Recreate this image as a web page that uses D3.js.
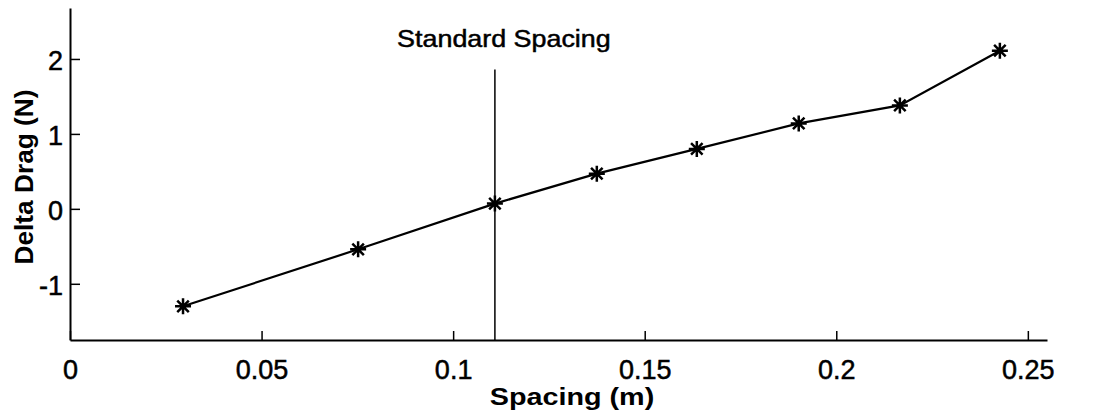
<!DOCTYPE html>
<html>
<head>
<meta charset="utf-8">
<script src="https://cdn.jsdelivr.net/npm/d3@7"></script>
<style>
	body { margin: 0; background: #fff; }
	svg { display: block; font-family: "Liberation Sans", Arial, sans-serif; }
</style>
</head>
<body>
<svg id="chart" width="1096" height="418"></svg>
<script>
// values
const spacing = [0.0295, 0.0752, 0.1109, 0.1375, 0.1636, 0.1902, 0.2166, 0.2427];
const deltaDrag = [-1.3, -0.54, 0.07, 0.47, 0.8, 1.14, 1.38, 2.11];
const xTicks = [0, 0.05, 0.1, 0.15, 0.2, 0.25];
const yTicks = [-1, 0, 1, 2];
const standardSpacing = [0.1109];
const standardTop = 1.86;

const svg = d3.select("#chart");
const margin = { left: 70, right: 49, top: 8, bottom: 78 };
const W = 1096, H = 418;

const x = d3.scaleLinear().domain([0, 0.255]).range([margin.left, W - margin.right]);
const y = d3.scaleLinear().domain([-1.75, 2.68]).range([H - margin.bottom, margin.top]);

const data = spacing.map((s, i) => ({ s, v: deltaDrag[i] }));

// axes, ticks pointing inward like matlab
const gx = svg.append("g")
	.attr("transform", `translate(0,${y.range()[0]})`)
	.call(d3.axisBottom(x).tickValues(xTicks).tickSizeInner(-9).tickSizeOuter(0).tickPadding(20)
		.tickFormat((d) => String(d)));

const gy = svg.append("g")
	.attr("transform", `translate(${margin.left},0)`)
	.call(d3.axisLeft(y).tickValues(yTicks).tickSizeInner(-10).tickSizeOuter(0).tickPadding(7)
		.tickFormat((d) => String(d)));

[gx, gy].forEach((g) => {
	g.select(".domain").attr("stroke", "#000").attr("stroke-width", 2);
	g.selectAll(".tick line").attr("stroke", "#000").attr("stroke-width", 1.5);
	g.selectAll(".tick text")
		.attr("fill", "#000")
		.attr("stroke", "#000")
		.attr("stroke-width", 0.5)
		.attr("font-size", 27)
		.attr("font-family", "Liberation Sans, Arial, sans-serif");
});
gy.selectAll(".tick text").attr("dy", "0.4em");

// standard spacing marker line
svg.selectAll(".stdLine")
	.data(standardSpacing)
	.join("line")
	.attr("class", "stdLine")
	.attr("x1", (d) => x(d))
	.attr("x2", (d) => x(d))
	.attr("y1", y(standardTop))
	.attr("y2", y.range()[0])
	.attr("stroke", "#000")
	.attr("stroke-width", 1.5);

svg.selectAll(".stdLabel")
	.data(standardSpacing)
	.join("text")
	.attr("class", "stdLabel")
	.attr("transform", (d) => `translate(${x(d) + 9},47) scale(1.12,1)`)
	.attr("text-anchor", "middle")
	.attr("font-size", 24)
	.attr("stroke", "#000")
	.attr("stroke-width", 0.5)
	.text("Standard Spacing");

// data line
const line = d3.line().x((d) => x(d.s)).y((d) => y(d.v));
svg.append("path")
	.datum(data)
	.attr("d", line)
	.attr("fill", "none")
	.attr("stroke", "#000")
	.attr("stroke-width", 2.2);

// asterisk markers
const r = 8;
const k = r * 0.72;
const star = `M${-r},0L${r},0M0,${-r}L0,${r}M${-k},${-k}L${k},${k}M${-k},${k}L${k},${-k}`;
svg.selectAll(".marker")
	.data(data)
	.join("path")
	.attr("class", "marker")
	.attr("transform", (d) => `translate(${x(d.s)},${y(d.v)})`)
	.attr("d", star)
	.attr("stroke", "#000")
	.attr("stroke-width", 2.5)
	.attr("fill", "none");

// axis titles
svg.append("text")
	.attr("transform", "translate(572,405) scale(1.25,1)")
	.attr("text-anchor", "middle")
	.attr("font-size", 23)
	.attr("font-weight", "bold")
	.text("Spacing (m)");

svg.append("text")
	.attr("transform", "translate(33,177) rotate(-90) scale(1.05,1)")
	.attr("text-anchor", "middle")
	.attr("font-size", 25)
	.attr("font-weight", "bold")
	.text("Delta Drag (N)");
</script>
</body>
</html>
